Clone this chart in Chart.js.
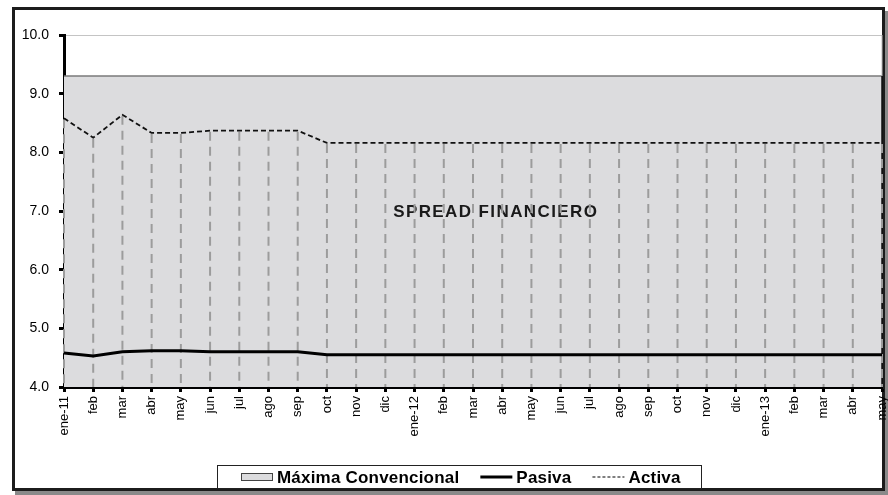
<!DOCTYPE html>
<html lang="es">
<head>
<meta charset="utf-8">
<title>Spread financiero</title>
<script src="https://cdn.jsdelivr.net/npm/chart.js@4.4.1/dist/chart.umd.min.js"></script>
<style>
    html, body { margin: 0; padding: 0; background: #fff; }
    .frame {
        position: absolute;
        left: 12px; top: 7px;
        width: 873px; height: 484px;
        box-sizing: border-box;
        border: 3px solid #1c1c1c;
        box-shadow: 3px 4px 0 #8a8a8a;
        z-index: 0;
    }
    #spreadChart { position: absolute; left: 0; top: 0; z-index: 1; }
</style>
</head>
<body>
<div class="frame"></div>
<canvas id="spreadChart" width="888" height="495"></canvas>
<script>
// Months, Jan 2011 to May 2013
const months = ['ene-11', 'feb', 'mar', 'abr', 'may', 'jun', 'jul', 'ago', 'sep', 'oct', 'nov', 'dic',
    'ene-12', 'feb', 'mar', 'abr', 'may', 'jun', 'jul', 'ago', 'sep', 'oct', 'nov', 'dic',
    'ene-13', 'feb', 'mar', 'abr', 'may'];

// Rates (%)
const maximaConvencional = [9.3, 9.3, 9.3, 9.3, 9.3, 9.3, 9.3, 9.3, 9.3, 9.3, 9.3, 9.3,
    9.3, 9.3, 9.3, 9.3, 9.3, 9.3, 9.3, 9.3, 9.3, 9.3, 9.3, 9.3,
    9.3, 9.3, 9.3, 9.3, 9.3];
const pasiva = [4.58, 4.53, 4.60, 4.62, 4.62, 4.60, 4.60, 4.60, 4.60, 4.55, 4.55, 4.55,
    4.55, 4.55, 4.55, 4.55, 4.55, 4.55, 4.55, 4.55, 4.55, 4.55, 4.55, 4.55,
    4.55, 4.55, 4.55, 4.55, 4.55];
const activa = [8.58, 8.25, 8.64, 8.33, 8.33, 8.37, 8.37, 8.37, 8.37, 8.16, 8.16, 8.16,
    8.16, 8.16, 8.16, 8.16, 8.16, 8.16, 8.16, 8.16, 8.16, 8.16, 8.16, 8.16,
    8.16, 8.16, 8.16, 8.16, 8.16];

const yTicks = [4, 5, 6, 7, 8, 9, 10];
const seriesNames = ['Máxima Convencional', 'Pasiva', 'Activa'];
const spreadLabel = 'SPREAD FINANCIERO';
const spreadLabelAt = { x: 14.78, y: 6.97 }; // category index, value

const AREA_FILL = '#dcdcde';
const FONT = '"Liberation Sans", Arial, sans-serif';

Chart.defaults.font.family = FONT;
Chart.defaults.color = '#000';

// text, frame edge and drop lines drawn right after the grey area
const spreadExtras = {
    id: 'spreadExtras',
    afterDatasetDraw(chart, args) {
        if (args.index !== 0) return;
        const { ctx, chartArea } = chart;
        const x = chart.scales.x, y = chart.scales.y;
        const topArea = y.getPixelForValue(maximaConvencional[maximaConvencional.length - 1]);

        ctx.save();
        // right edge of plot
        ctx.lineWidth = 1;
        ctx.strokeStyle = '#bdbdbd';
        ctx.beginPath();
        ctx.moveTo(chartArea.right, chartArea.top);
        ctx.lineTo(chartArea.right, topArea);
        ctx.stroke();
        ctx.lineWidth = 1.5;
        ctx.strokeStyle = '#111';
        ctx.beginPath();
        ctx.moveTo(chartArea.right, topArea);
        ctx.lineTo(chartArea.right, chartArea.bottom);
        ctx.stroke();

        // label inside the area
        ctx.font = 'bold 17px ' + FONT;
        ctx.letterSpacing = '1.4px';
        ctx.fillStyle = '#1a1a1a';
        ctx.textAlign = 'center';
        ctx.textBaseline = 'middle';
        ctx.fillText(spreadLabel, x.getPixelForValue(spreadLabelAt.x), y.getPixelForValue(spreadLabelAt.y));
        ctx.letterSpacing = '0px';

        // drop lines from Activa down to the axis
        const meta = chart.getDatasetMeta(2);
        ctx.strokeStyle = '#9c9c9c';
        ctx.lineWidth = 2;
        ctx.setLineDash([9, 6]);
        meta.data.forEach(pt => {
            ctx.beginPath();
            ctx.moveTo(pt.x, pt.y + 1);
            ctx.lineTo(pt.x, chartArea.bottom);
            ctx.stroke();
        });
        ctx.restore();
    },
    afterDraw(chart) {
        // legend drawn by hand, boxed, under the axis labels
        const ctx = chart.ctx;
        const cx = 461, cy = 477;
        const sym = 32, gapSym = 4, gapItem = 21;
        ctx.save();
        ctx.font = 'bold 17px ' + FONT;
        ctx.letterSpacing = '0.2px';
        const widths = seriesNames.map(t => ctx.measureText(t).width);
        const total = widths.reduce((a, w) => a + sym + gapSym + w, 0) + gapItem * (seriesNames.length - 1);
        let xPos = Math.round(cx - total / 2);

        ctx.strokeStyle = '#222';
        ctx.lineWidth = 1;
        ctx.strokeRect(Math.round(xPos - 24) + 0.5, cy - 12 + 0.5, Math.round(total + 44), 23);

        ctx.textAlign = 'left';
        ctx.textBaseline = 'middle';
        ctx.fillStyle = '#000';
        seriesNames.forEach((name, i) => {
            if (i === 0) {
                ctx.fillStyle = AREA_FILL;
                ctx.fillRect(xPos, cy - 4, sym, 7);
                ctx.strokeStyle = '#444';
                ctx.lineWidth = 1;
                ctx.strokeRect(xPos + 0.5, cy - 4 + 0.5, sym - 1, 7);
            } else {
                ctx.strokeStyle = '#000';
                ctx.lineWidth = i === 1 ? 3 : 1.2;
                ctx.setLineDash(i === 1 ? [] : [3, 2]);
                ctx.beginPath();
                ctx.moveTo(xPos, cy);
                ctx.lineTo(xPos + sym, cy);
                ctx.stroke();
                ctx.setLineDash([]);
            }
            ctx.fillStyle = '#000';
            ctx.fillText(name, xPos + sym + gapSym, cy + 1);
            xPos += sym + gapSym + widths[i] + gapItem;
        });
        ctx.restore();
    }
};

const ctx = document.getElementById('spreadChart').getContext('2d');
new Chart(ctx, {
    type: 'line',
    data: {
        labels: months,
        datasets: [
            {
                label: seriesNames[0],
                data: maximaConvencional,
                fill: 'start',
                backgroundColor: AREA_FILL,
                borderColor: '#7a7a7a',
                borderWidth: 1.5,
                pointRadius: 0,
                order: 3
            },
            {
                label: seriesNames[1],
                data: pasiva,
                fill: false,
                borderColor: '#000',
                borderWidth: 3,
                pointRadius: 0,
                order: 1
            },
            {
                label: seriesNames[2],
                data: activa,
                fill: false,
                borderColor: '#111',
                borderWidth: 1.8,
                borderDash: [5, 3],
                pointRadius: 0,
                order: 2
            }
        ]
    },
    options: {
        responsive: false,
        animation: false,
        devicePixelRatio: 1,
        layout: { padding: { left: 0, right: 6, top: 35, bottom: 0 } },
        plugins: {
            tooltip: { enabled: false },
            legend: { display: false }
        },
        scales: {
            x: {
                grid: {
                    drawOnChartArea: false,
                    drawTicks: true,
                    tickLength: 5,
                    tickColor: '#000',
                    tickWidth: 3
                },
                border: { color: '#000', width: 3 },
                ticks: {
                    autoSkip: false,
                    minRotation: 90,
                    maxRotation: 90,
                    padding: 4,
                    color: '#000',
                    font: { size: 13 }
                },
                afterFit: scale => {
                    scale.height = 108;
                    scale.paddingLeft = 0;
                    scale.paddingRight = 0;
                }
            },
            y: {
                min: 4,
                max: 10,
                afterBuildTicks: scale => {
                    scale.ticks = yTicks.map(v => ({ value: v }));
                },
                grid: {
                    color: '#c4c4c4',
                    lineWidth: 1,
                    tickLength: 5,
                    tickColor: '#000',
                    tickWidth: 3
                },
                border: { color: '#000', width: 3 },
                ticks: {
                    padding: 10,
                    color: '#000',
                    font: { size: 14 },
                    callback: v => Number(v).toFixed(1)
                },
                afterFit: scale => {
                    scale.width = 64;
                }
            }
        }
    },
    plugins: [spreadExtras]
});
</script>
</body>
</html>
